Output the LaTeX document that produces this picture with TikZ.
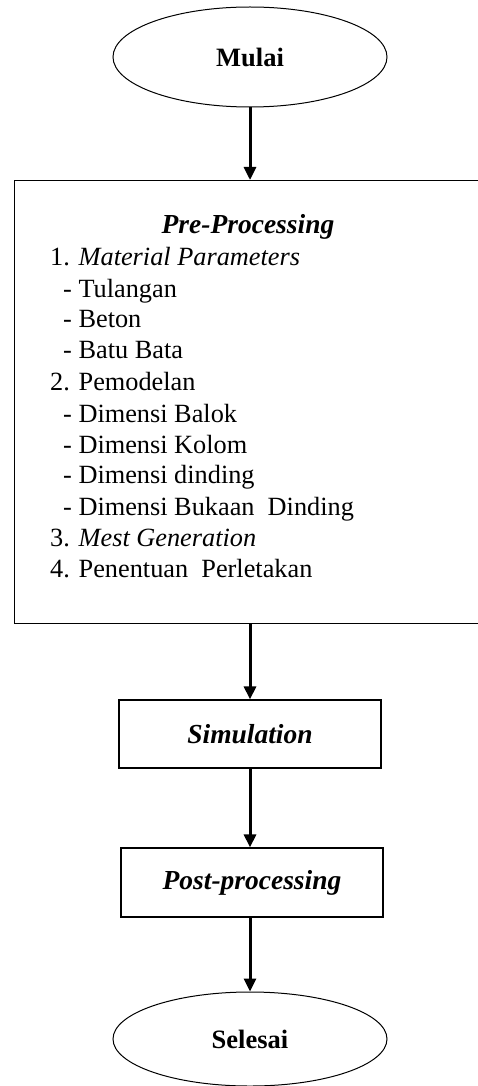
\documentclass[tikz,border=0pt]{standalone}
\usepackage{fontspec}
\setmainfont{Liberation Serif}
\usetikzlibrary{shapes.geometric,arrows.meta}
\begin{document}
\begin{tikzpicture}[x=1pt,y=-1pt,
  term/.style={draw, line width=1pt, ellipse, minimum width=274pt, minimum height=100pt, inner sep=0pt, font=\fontsize{26.5}{31}\selectfont\bfseries},
  procbox/.style={draw, line width=1.2pt, rectangle, inner sep=0pt, font=\fontsize{27.5}{31}\selectfont\bfseries\itshape},
  item/.style={anchor=base west, inner sep=0pt, font=\fontsize{26.3}{31}\selectfont},
  flow/.style={line width=3pt, -{Triangle[width=12pt,length=13pt]}}]
\useasboundingbox (0,0) rectangle (478,1086);
\fill[white] (0,0) rectangle (478,1086);
\node[term] (mulai) at (250,57) {\raisebox{-4pt}{Mulai}};
\node[procbox, anchor=north west, minimum width=490pt, minimum height=443pt] (pre) at (14,180) {};
\node[anchor=base, inner sep=0pt, font=\fontsize{27.5}{31}\selectfont\bfseries\itshape] (title) at (248,233) {Pre-Processing};
\node[item] (l1) at (50,265) {1. \textit{Material Parameters}};
\node[item] (l2) at (63,297) {- Tulangan};
\node[item] (l3) at (63,327) {- Beton};
\node[item] (l4) at (63,358) {- Batu Bata};
\node[item] (l5) at (50,390) {2. Pemodelan};
\node[item] (l6) at (63,422) {- Dimensi Balok};
\node[item] (l7) at (63,453) {- Dimensi Kolom};
\node[item] (l8) at (63,483) {- Dimensi dinding};
\node[item] (l9) at (63,515) {- Dimensi Bukaan\ \ Dinding};
\node[item] (l10) at (50,546) {3. \textit{Mest Generation}};
\node[item] (l11) at (50,577) {4. Penentuan\ \ Perletakan};
\node[procbox, minimum width=262pt, minimum height=68pt] (sim) at (250,734) {Simulation};
\node[procbox, minimum width=262pt, minimum height=69pt] (post) at (252,882.5) {Post-processing};
\node[term, minimum height=94pt] (selesai) at (250,1039) {Selesai};
\draw[flow] (mulai.south) -- (mulai.south |- pre.north);
\draw[flow] (pre.south -| mulai.south) -- (sim.north);
\draw[flow] (sim.south) -- (sim.south |- post.north);
\draw[flow] (post.south -| sim.south) -- (selesai.north);
\end{tikzpicture}
\end{document}
